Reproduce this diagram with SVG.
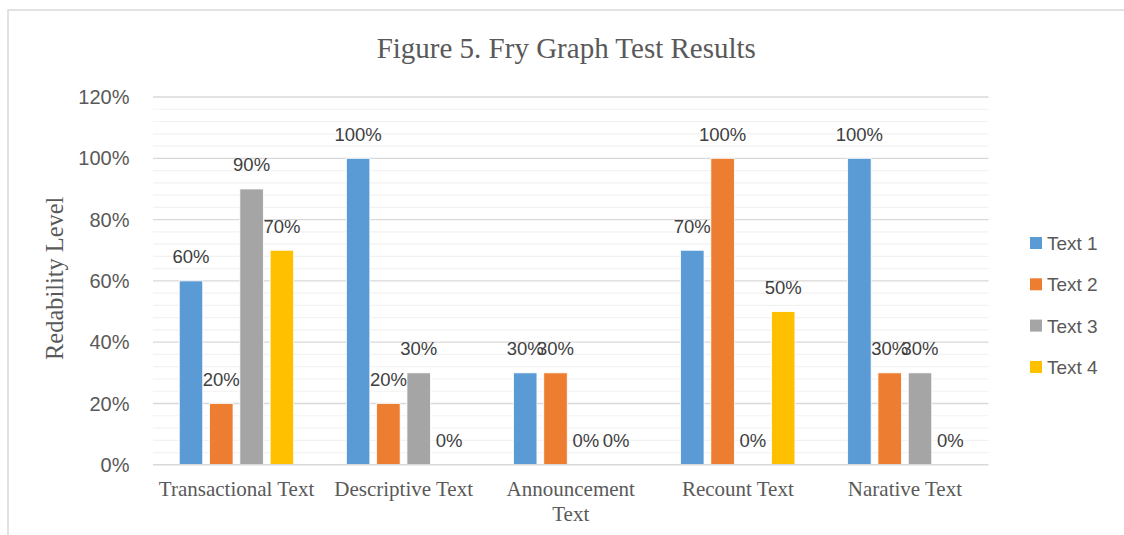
<svg xmlns="http://www.w3.org/2000/svg" width="1124" height="535" viewBox="0 0 1124 535">
<style>
.minor{stroke:#F2F2F2;stroke-width:1.2}
.major{stroke:#D9D9D9;stroke-width:1.3}
.tick{font-family:"Liberation Sans",Arial,sans-serif;font-size:20px;fill:#595959;text-anchor:end}
.dl{font-family:"Liberation Sans",Arial,sans-serif;font-size:18.5px;fill:#404040;text-anchor:middle}
.cat{font-family:"Liberation Serif","Times New Roman",serif;font-size:21px;fill:#595959;text-anchor:middle}
.leg{font-family:"Liberation Sans",Arial,sans-serif;font-size:19px;fill:#595959}
.b1{fill:#5B9BD5}.b2{fill:#ED7D31}.b3{fill:#A5A5A5}.b4{fill:#FFC000}
.bar{stroke:#FFFFFF;stroke-width:0.8}
</style>
<rect x="0" y="0" width="1124" height="535" fill="#FFFFFF"/>
<rect x="8" y="10" width="1130" height="540" fill="none" stroke="#D9D9D9" stroke-width="1.5"/>
<text id="title" x="566.3" y="57.5" font-family="'Liberation Serif','Times New Roman',serif" font-size="29" fill="#595959" text-anchor="middle">Figure 5. Fry Graph Test Results</text>
<g id="gridlines">
<line class="minor" x1="153" x2="988.5" y1="452.54" y2="452.54"/>
<line class="minor" x1="153" x2="988.5" y1="440.28" y2="440.28"/>
<line class="minor" x1="153" x2="988.5" y1="428.02" y2="428.02"/>
<line class="minor" x1="153" x2="988.5" y1="415.76" y2="415.76"/>
<line class="minor" x1="153" x2="988.5" y1="391.24" y2="391.24"/>
<line class="minor" x1="153" x2="988.5" y1="378.98" y2="378.98"/>
<line class="minor" x1="153" x2="988.5" y1="366.72" y2="366.72"/>
<line class="minor" x1="153" x2="988.5" y1="354.46" y2="354.46"/>
<line class="minor" x1="153" x2="988.5" y1="329.94" y2="329.94"/>
<line class="minor" x1="153" x2="988.5" y1="317.68" y2="317.68"/>
<line class="minor" x1="153" x2="988.5" y1="305.42" y2="305.42"/>
<line class="minor" x1="153" x2="988.5" y1="293.16" y2="293.16"/>
<line class="minor" x1="153" x2="988.5" y1="268.64" y2="268.64"/>
<line class="minor" x1="153" x2="988.5" y1="256.38" y2="256.38"/>
<line class="minor" x1="153" x2="988.5" y1="244.12" y2="244.12"/>
<line class="minor" x1="153" x2="988.5" y1="231.86" y2="231.86"/>
<line class="minor" x1="153" x2="988.5" y1="207.34" y2="207.34"/>
<line class="minor" x1="153" x2="988.5" y1="195.08" y2="195.08"/>
<line class="minor" x1="153" x2="988.5" y1="182.82" y2="182.82"/>
<line class="minor" x1="153" x2="988.5" y1="170.56" y2="170.56"/>
<line class="minor" x1="153" x2="988.5" y1="146.04" y2="146.04"/>
<line class="minor" x1="153" x2="988.5" y1="133.78" y2="133.78"/>
<line class="minor" x1="153" x2="988.5" y1="121.52" y2="121.52"/>
<line class="minor" x1="153" x2="988.5" y1="109.26" y2="109.26"/>
<line class="major" x1="153" x2="988.5" y1="403.5" y2="403.5"/>
<line class="major" x1="153" x2="988.5" y1="342.2" y2="342.2"/>
<line class="major" x1="153" x2="988.5" y1="280.9" y2="280.9"/>
<line class="major" x1="153" x2="988.5" y1="219.6" y2="219.6"/>
<line class="major" x1="153" x2="988.5" y1="158.3" y2="158.3"/>
<line class="major" x1="153" x2="988.5" y1="97" y2="97"/>
</g>
<g id="y-axis">
<text class="tick" x="129.5" y="471.8">0%</text>
<text class="tick" x="129.5" y="410.5">20%</text>
<text class="tick" x="129.5" y="349.2">40%</text>
<text class="tick" x="129.5" y="287.9">60%</text>
<text class="tick" x="129.5" y="226.6">80%</text>
<text class="tick" x="129.5" y="165.3">100%</text>
<text class="tick" x="129.5" y="104">120%</text>
<text transform="translate(62.5,278.3) rotate(-90)" font-family="'Liberation Serif','Times New Roman',serif" font-size="24.4" fill="#595959" text-anchor="middle">Redability Level</text>
</g>
<g id="cat-transactional">
<rect class="bar b1" x="179.25" y="280.9" width="23.5" height="183.9"/>
<rect class="bar b2" x="209.55" y="403.5" width="23.5" height="61.3"/>
<rect class="bar b3" x="239.85" y="188.95" width="23.5" height="275.85"/>
<rect class="bar b4" x="270.15" y="250.25" width="23.5" height="214.55"/>
<text class="dl" x="191" y="263.4">60%</text>
<text class="dl" x="221.3" y="386">20%</text>
<text class="dl" x="251.6" y="171.45">90%</text>
<text class="dl" x="281.9" y="232.75">70%</text>
<text class="cat" x="236.55" y="495.7">Transactional Text</text>
</g>
<g id="cat-descriptive">
<rect class="bar b1" x="346.35" y="158.3" width="23.5" height="306.5"/>
<rect class="bar b2" x="376.65" y="403.5" width="23.5" height="61.3"/>
<rect class="bar b3" x="406.95" y="372.85" width="23.5" height="91.95"/>
<text class="dl" x="358.1" y="140.8">100%</text>
<text class="dl" x="388.4" y="386">20%</text>
<text class="dl" x="418.7" y="355.35">30%</text>
<text class="dl" x="449" y="447.3">0%</text>
<text class="cat" x="403.65" y="495.7">Descriptive Text</text>
</g>
<g id="cat-announcement">
<rect class="bar b1" x="513.45" y="372.85" width="23.5" height="91.95"/>
<rect class="bar b2" x="543.75" y="372.85" width="23.5" height="91.95"/>
<text class="dl" x="525.2" y="355.35">30%</text>
<text class="dl" x="555.5" y="355.35">30%</text>
<text class="dl" x="585.8" y="447.3">0%</text>
<text class="dl" x="616.1" y="447.3">0%</text>
<text class="cat" x="570.75" y="495.7">Announcement</text>
<text class="cat" x="570.75" y="520.5">Text</text>
</g>
<g id="cat-recount">
<rect class="bar b1" x="680.55" y="250.25" width="23.5" height="214.55"/>
<rect class="bar b2" x="710.85" y="158.3" width="23.5" height="306.5"/>
<rect class="bar b4" x="771.45" y="311.55" width="23.5" height="153.25"/>
<text class="dl" x="692.3" y="232.75">70%</text>
<text class="dl" x="722.6" y="140.8">100%</text>
<text class="dl" x="752.9" y="447.3">0%</text>
<text class="dl" x="783.2" y="294.05">50%</text>
<text class="cat" x="737.85" y="495.7">Recount Text</text>
</g>
<g id="cat-narative">
<rect class="bar b1" x="847.65" y="158.3" width="23.5" height="306.5"/>
<rect class="bar b2" x="877.95" y="372.85" width="23.5" height="91.95"/>
<rect class="bar b3" x="908.25" y="372.85" width="23.5" height="91.95"/>
<text class="dl" x="859.4" y="140.8">100%</text>
<text class="dl" x="889.7" y="355.35">30%</text>
<text class="dl" x="920" y="355.35">30%</text>
<text class="dl" x="950.3" y="447.3">0%</text>
<text class="cat" x="904.95" y="495.7">Narative Text</text>
</g>
<g id="x-axis">
<line x1="153" x2="988.5" y1="464.8" y2="464.8" stroke="#D9D9D9" stroke-width="1.5"/>
</g>
<g id="legend">
<rect class="b1" x="1030" y="237" width="12" height="12"/>
<text class="leg" x="1047" y="250">Text 1</text>
<rect class="b2" x="1030" y="278.3" width="12" height="12"/>
<text class="leg" x="1047" y="291.3">Text 2</text>
<rect class="b3" x="1030" y="319.6" width="12" height="12"/>
<text class="leg" x="1047" y="332.6">Text 3</text>
<rect class="b4" x="1030" y="361" width="12" height="12"/>
<text class="leg" x="1047" y="374">Text 4</text>
</g>
</svg>
